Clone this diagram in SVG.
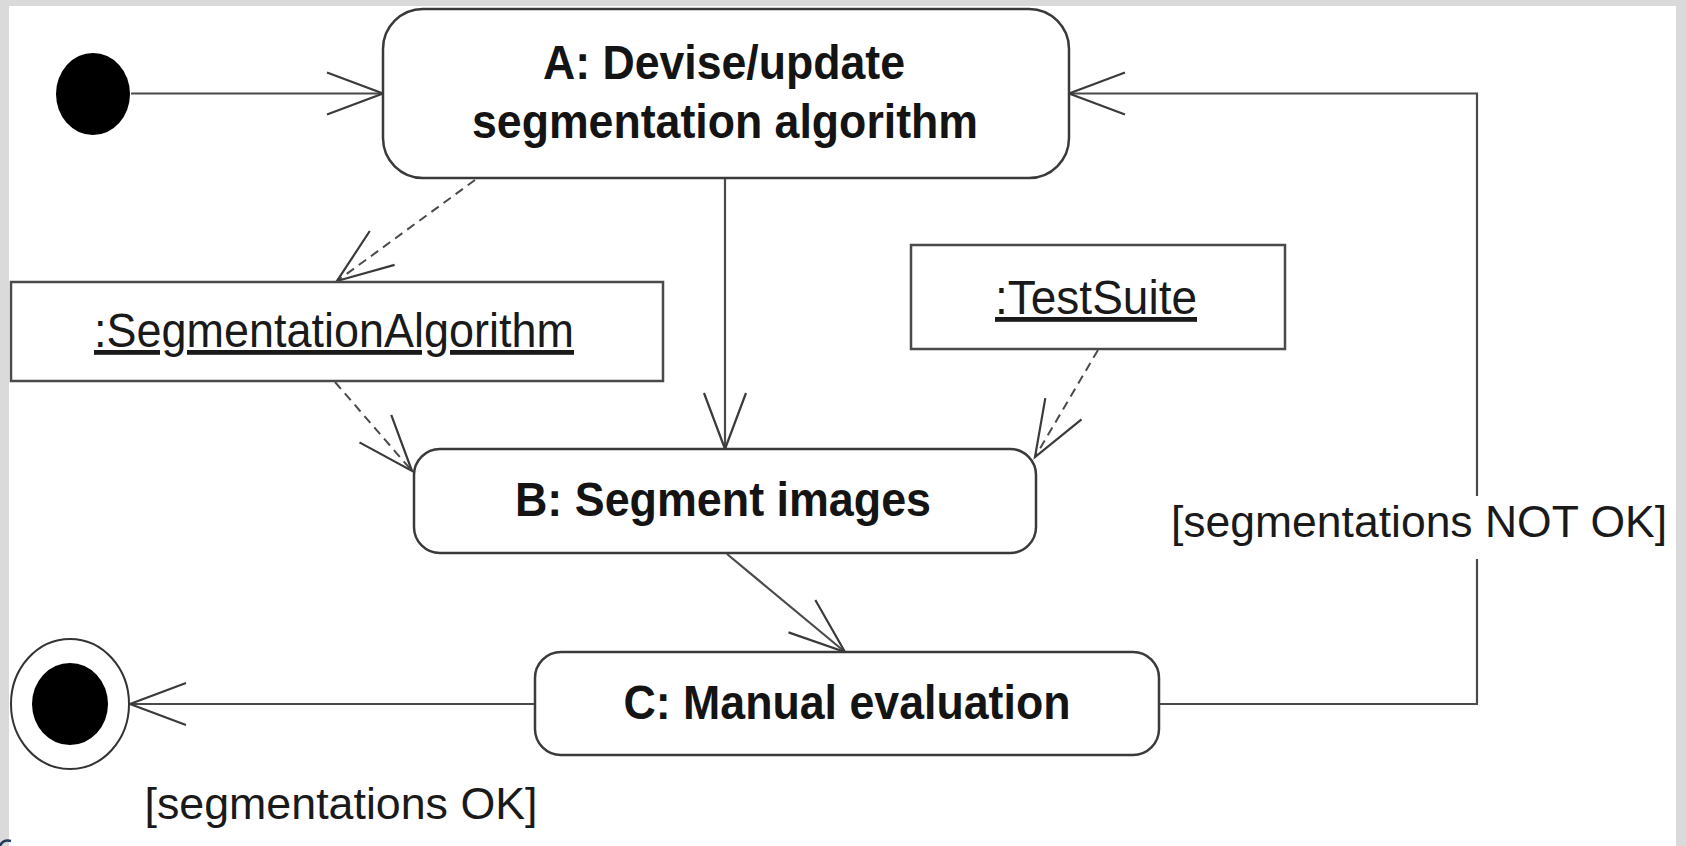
<svg xmlns="http://www.w3.org/2000/svg" width="1686" height="846" viewBox="0 0 1686 846">
  <style>
    .frame { fill: #dadada; }
    .action { fill: #ffffff; stroke: #3a3a3a; stroke-width: 2.5; }
    .object { fill: #ffffff; stroke: #4a4a4a; stroke-width: 2.5; }
    .title { font-family: "Liberation Sans", Arial, sans-serif; font-weight: bold; font-size: 48px; fill: #141414; text-anchor: middle; }
    .obj { font-family: "Liberation Sans", Arial, sans-serif; font-size: 48px; fill: #1a1a1a; text-anchor: middle; text-decoration: underline; }
    .guard { font-family: "Liberation Sans", Arial, sans-serif; font-size: 45px; fill: #1a1a1a; text-anchor: middle; }
    .flow { fill: none; stroke: #4a4a4a; stroke-width: 2.2; }
    .dep { fill: none; stroke: #4a4a4a; stroke-width: 2; stroke-dasharray: 9 6; }
  </style>
  <defs>
    <marker id="open" markerUnits="userSpaceOnUse" markerWidth="60" markerHeight="50" refX="0" refY="0" orient="auto" overflow="visible">
      <path d="M -56 -21 L 0 0 L -56 21" fill="none" stroke="#3a3a3a" stroke-width="2.2"/>
    </marker>
  </defs>

  <!-- page background and border strips -->
  <rect x="0" y="0" width="1686" height="846" fill="#ffffff"/>
  <rect class="frame" x="0" y="0" width="9" height="846"/>
  <rect class="frame" x="0" y="0" width="1686" height="6"/>
  <rect class="frame" x="1676" y="0" width="10" height="846"/>
  <path d="M 0 846 Q 3 839 11 841" fill="none" stroke="#1f3a5a" stroke-width="2.5"/>

  <!-- control and object flows -->
  <g id="connectors">
    <path class="flow" d="M 131 93.5 L 383 93.5" marker-end="url(#open)"/>
    <path class="flow" d="M 725 178 L 725 449" marker-end="url(#open)"/>
    <path class="flow" d="M 727 554 L 845 652" marker-end="url(#open)"/>
    <path class="flow" d="M 535 704 L 130 704" marker-end="url(#open)"/>
    <path class="flow" d="M 1159 704 H 1477 V 559"/>
    <path class="flow" d="M 1477 496 V 93.5 H 1069" marker-end="url(#open)"/>
    <path class="dep" d="M 475 180 L 337 281" marker-end="url(#open)"/>
    <path class="dep" d="M 335 382 L 412 471" marker-end="url(#open)"/>
    <path class="dep" d="M 1098 350 L 1035 457" marker-end="url(#open)"/>
    <text class="guard" x="1419" y="537" textLength="496" lengthAdjust="spacingAndGlyphs">[segmentations NOT OK]</text>
    <text class="guard" x="341" y="819" textLength="393" lengthAdjust="spacingAndGlyphs">[segmentations OK]</text>
  </g>

  <g id="initial">
    <ellipse cx="93" cy="94" rx="37" ry="41" fill="#000000"/>
  </g>

  <g id="final">
    <ellipse cx="70" cy="704" rx="59" ry="65" fill="#ffffff" stroke="#333333" stroke-width="2"/>
    <ellipse cx="70" cy="704" rx="38" ry="41" fill="#000000"/>
  </g>

  <g id="actionA">
    <rect class="action" x="383" y="9" width="686" height="169" rx="40" ry="40"/>
    <text class="title" x="724" y="79" textLength="362" lengthAdjust="spacingAndGlyphs">A: Devise/update</text>
    <text class="title" x="725" y="138" textLength="506" lengthAdjust="spacingAndGlyphs">segmentation algorithm</text>
  </g>

  <g id="segmentationAlgorithm">
    <rect class="object" x="11" y="282" width="652" height="99"/>
    <text class="obj" x="334" y="347" textLength="480" lengthAdjust="spacingAndGlyphs">:SegmentationAlgorithm</text>
  </g>

  <g id="testSuite">
    <rect class="object" x="911" y="245" width="374" height="104"/>
    <text class="obj" x="1096" y="314" textLength="202" lengthAdjust="spacingAndGlyphs">:TestSuite</text>
  </g>

  <g id="actionB">
    <rect class="action" x="414" y="449" width="622" height="104" rx="26" ry="26"/>
    <text class="title" x="723" y="516" textLength="416" lengthAdjust="spacingAndGlyphs">B: Segment images</text>
  </g>

  <g id="actionC">
    <rect class="action" x="535" y="652" width="624" height="103" rx="26" ry="26"/>
    <text class="title" x="847" y="719" textLength="447" lengthAdjust="spacingAndGlyphs">C: Manual evaluation</text>
  </g>
</svg>
